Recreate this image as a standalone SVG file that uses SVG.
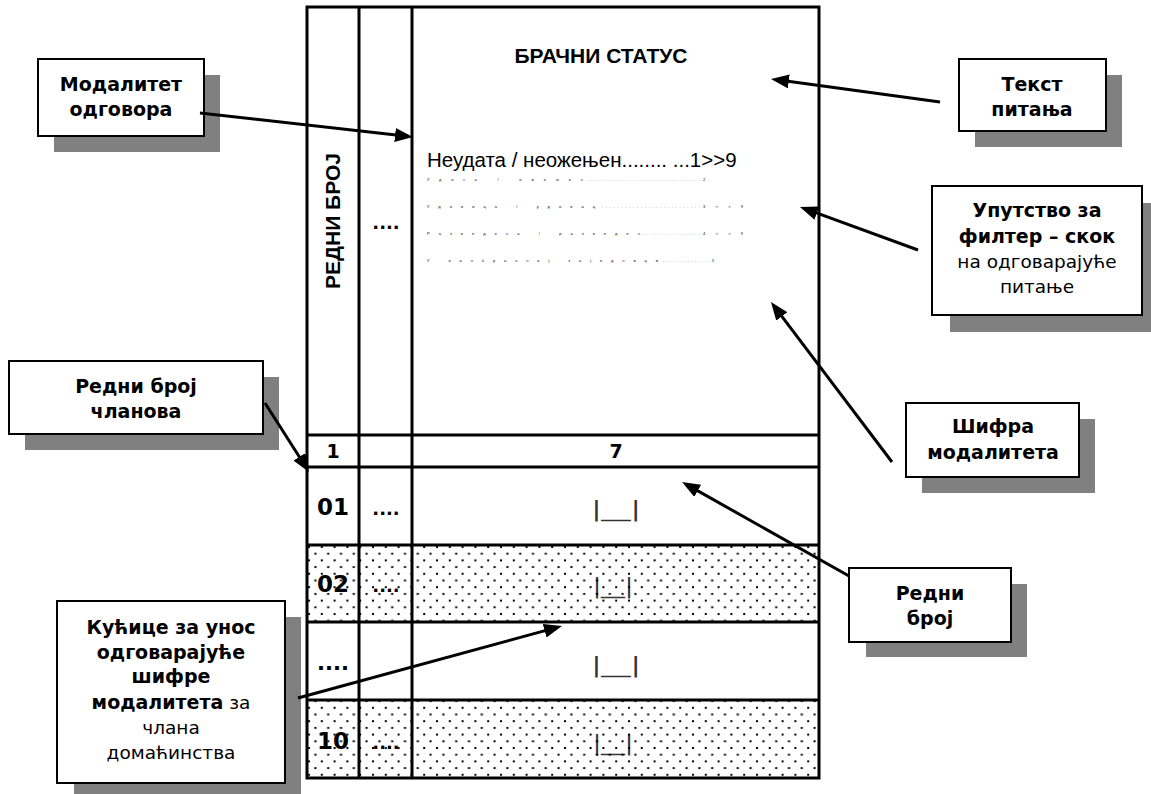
<svg xmlns="http://www.w3.org/2000/svg" width="1151" height="794" viewBox="0 0 1151 794">
<defs>
<pattern id="dots" patternUnits="userSpaceOnUse" x="308" y="546" width="12.8" height="13.4">
<rect x="0" y="0" width="2" height="2" fill="#000"/>
<rect x="6.4" y="6.7" width="2" height="2" fill="#000"/>
</pattern>
<marker id="ah" markerUnits="userSpaceOnUse" markerWidth="18" markerHeight="14" viewBox="0 0 18 14" refX="10" refY="7" orient="auto">
<path d="M0,0 L18,7 L0,14 z" fill="#000"/>
</marker>
</defs>
<style>
.tbl{stroke:#000;stroke-width:3;fill:none}
.box{fill:#fff;stroke:#000;stroke-width:2}
.sh{fill:#808080}
.cb{font-family:"DejaVu Sans",Verdana,sans-serif;font-weight:bold;font-size:19px;text-anchor:middle;fill:#000}
.cr{font-weight:normal;font-size:18.5px}
.ar{stroke:#000;stroke-width:3;fill:none;marker-end:url(#ah)}
.ab{font-family:"Liberation Sans",Arial,sans-serif;font-weight:bold;fill:#000}
.ar2{font-family:"Liberation Sans",Arial,sans-serif;fill:#000}
.tb{font-family:"DejaVu Sans",Verdana,sans-serif;font-weight:bold;text-anchor:middle;fill:#000}
.bx{font-family:"DejaVu Sans",Verdana,sans-serif;font-size:22px;fill:#333;text-anchor:middle}
.tiny{font-family:"Liberation Sans",Arial,sans-serif;font-size:4px;fill:#000}
</style>
<rect width="1151" height="794" fill="#fff"/>

<g id="table">
<g id="table-text">
<text class="ab" x="601" y="63" font-size="21" text-anchor="middle">БРАЧНИ СТАТУС</text>
<text class="ar2" x="427" y="167" font-size="20.5">Неудата / неожењен........ ...1&gt;&gt;9</text>
<text class="tiny" x="427" y="181" textLength="156" lengthAdjust="spacing">Удата / ожењен</text>
<text class="tiny" x="587" y="181" textLength="113" lengthAdjust="spacing">..............................</text>
<text class="tiny" x="703" y="181">2</text>
<text class="tiny" x="427" y="208" textLength="168" lengthAdjust="spacing">Удовица / удовац</text>
<text class="tiny" x="602" y="208" textLength="98" lengthAdjust="spacing">..........................</text>
<text class="tiny" x="703" y="208" textLength="40" lengthAdjust="spacing">3&gt;&gt;9</text>
<text class="tiny" x="427" y="235" textLength="213" lengthAdjust="spacing">Разведена / разведен</text>
<text class="tiny" x="643" y="235" textLength="57" lengthAdjust="spacing">................</text>
<text class="tiny" x="703" y="235" textLength="40" lengthAdjust="spacing">4&gt;&gt;9</text>
<text class="tiny" x="427" y="262" textLength="231" lengthAdjust="spacing">У ванбрачној заједници</text>
<text class="tiny" x="663" y="262" textLength="47" lengthAdjust="spacing">..............</text>
<text class="tiny" x="712" y="262">5</text>
<text class="ab" font-size="21" text-anchor="middle" transform="translate(340,221) rotate(-90)">РЕДНИ БРОЈ</text>
<text class="tb" x="386" y="229" font-size="18">....</text>
<text class="tb" x="333" y="458" font-size="19">1</text>
<text class="tb" x="616" y="458" font-size="19">7</text>
<text class="tb" x="333" y="515" font-size="23">01</text>
<text class="tb" x="386" y="515" font-size="18">....</text>
<text class="bx" x="616" y="516" textLength="49" lengthAdjust="spacingAndGlyphs">|__|</text>
<text class="tb" x="333" y="592" font-size="23">02</text>
<text class="tb" x="386" y="592" font-size="18">....</text>
<text class="bx" x="613" y="593" textLength="40" lengthAdjust="spacingAndGlyphs">|__|</text>
<text class="tb" x="333" y="670" font-size="21">....</text>
<text class="bx" x="616" y="672" textLength="49" lengthAdjust="spacingAndGlyphs">|__|</text>
<text class="tb" x="333" y="749" font-size="23">10</text>
<text class="tb" x="386" y="749" font-size="18">....</text>
<text class="bx" x="613" y="750" textLength="40" lengthAdjust="spacingAndGlyphs">|__|</text>
</g>
<rect x="307" y="545" width="512" height="77" fill="url(#dots)"/>
<rect x="307" y="700" width="512" height="78" fill="url(#dots)"/>
<rect class="tbl" x="307" y="7" width="512" height="771"/>
<path class="tbl" d="M359,7 V778 M412,7 V778 M307,435 H819 M307,467 H819 M307,545 H819 M307,622 H819 M307,700 H819"/>
</g>

<g id="callout-modalitet">
<rect class="sh" x="54" y="75" width="166" height="77"/>
<rect class="box" x="38" y="59" width="166" height="77"/>
<text class="cb" x="121" y="91">Модалитет</text>
<text class="cb" x="121" y="116">одговора</text>
</g>

<g id="callout-tekst">
<rect class="sh" x="975" y="75" width="147" height="72"/>
<rect class="box" x="959" y="59" width="147" height="72"/>
<text class="cb" x="1032" y="91">Текст</text>
<text class="cb" x="1032" y="116">питања</text>
</g>

<g id="callout-uputstvo">
<rect class="sh" x="950" y="203" width="210" height="129"/>
<rect class="box" x="932" y="186" width="210" height="129"/>
<text class="cb" x="1037" y="217">Упутство за</text>
<text class="cb" x="1037" y="243">филтер – скок</text>
<text class="cb cr" x="1037" y="268">на одговарајуће</text>
<text class="cb cr" x="1037" y="293">питање</text>
</g>

<g id="callout-sifra">
<rect class="sh" x="922" y="419" width="173" height="74"/>
<rect class="box" x="906" y="403" width="173" height="74"/>
<text class="cb" x="993" y="433">Шифра</text>
<text class="cb" x="993" y="459">модалитета</text>
</g>

<g id="callout-redni">
<rect class="sh" x="866" y="584" width="161" height="73"/>
<rect class="box" x="849" y="568" width="162" height="74"/>
<text class="cb" x="930" y="600">Редни</text>
<text class="cb" x="930" y="625">број</text>
</g>

<g id="callout-clanova">
<rect class="sh" x="25" y="377" width="254" height="73"/>
<rect class="box" x="9" y="361" width="254" height="73"/>
<text class="cb" x="136" y="393">Редни број</text>
<text class="cb" x="136" y="418">чланова</text>
</g>

<g id="callout-kucice">
<rect class="sh" x="74" y="617" width="227" height="182"/>
<rect class="box" x="57" y="601" width="228" height="182"/>
<text class="cb" x="171" y="634">Кућице за унос</text>
<text class="cb" x="171" y="659">одговарајуће</text>
<text class="cb" x="171" y="683">шифре</text>
<text class="cb" x="171" y="709">модалитета<tspan font-weight="normal" font-size="18.5"> за</tspan></text>
<text class="cb cr" x="171" y="734">члана</text>
<text class="cb cr" x="171" y="759">домаћинства</text>
</g>

<g id="connectors">
<line class="ar" x1="200" y1="113" x2="405" y2="136.1"/>
<line class="ar" x1="940" y1="102" x2="778.9" y2="80.1"/>
<line class="ar" x1="918" y1="250" x2="807.5" y2="209.7"/>
<line class="ar" x1="892" y1="462" x2="775.8" y2="308.4"/>
<line class="ar" x1="849" y1="576" x2="689" y2="485.9"/>
<line class="ar" x1="265" y1="403" x2="304.7" y2="465.3"/>
<line class="ar" x1="298" y1="698" x2="554.3" y2="628.1"/>
</g>
</svg>
